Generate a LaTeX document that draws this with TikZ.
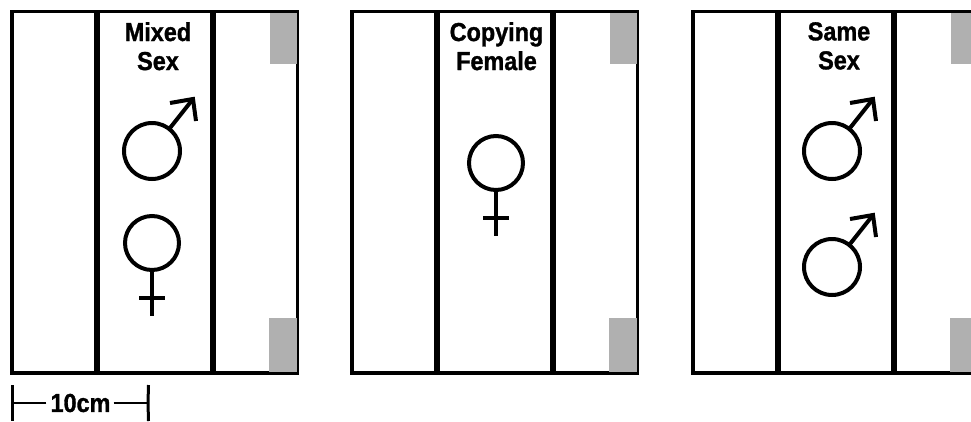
\documentclass[tikz,border=0pt]{standalone}
\usepackage{fontspec}
\usepackage{xcolor}
\usepackage{tikz}
\newfontfamily\labelfont[FakeStretch=0.9,FakeBold=1.2]{Liberation Sans}
\definecolor{TabGray}{RGB}{176,176,176}

\begin{document}
\begin{tikzpicture}[
    x=1pt,y=-1pt,
    tagtext/.style={inner sep=0pt, anchor=north, align=center, font=\labelfont\bfseries\fontsize{26}{29}\selectfont},
    frame/.style={draw=black, line width=3.4pt},
    divider/.style={draw=black, line width=6pt},
    tab/.style={fill=TabGray, draw=none},
    sign/.style={draw=black, line width=4pt},
    dimline/.style={draw=black, line width=2pt},
    dimtick/.style={draw=black, line width=3pt},
    malesign/.pic={
      \draw[sign] (0,0) circle (28);
      \draw[sign] (18,-23) -- (41,-52);
      \draw[sign] (18,-48) -- (41,-52) -- (44,-30);
    },
    femalesign/.pic={
      \draw[sign] (0,0) circle (27);
      \draw[sign] (0,27) -- (0,73);
      \draw[sign] (-13,55) -- (13,55);
    }
  ]
    \clip (0,0) rectangle (971,421);
    \foreach \px in {12,352,693} {
      \draw[frame] (\px,11.5) rectangle ++(285.5,361.5);
      \draw[divider] (\px+85,11.5) -- (\px+85,373);
      \draw[divider] (\px+200.5,11.5) -- (\px+200.5,373);
      \fill[tab] (\px+257.5,13) rectangle ++(27,51);
      \fill[tab] (\px+257,318) rectangle ++(27.5,54);
    }
    \node[tagtext] (mixed) at (158,22) {Mixed\\Sex};
    \node[tagtext] (copying) at (496.5,22) {Copying\\Female};
    \node[tagtext] (same) at (839,22) {Same\\Sex};
    \foreach \x/\y in {152/151,832/151,832/267} {
      \pic at (\x,\y) {malesign};
    }
    \foreach \x/\y in {152/243,496/163} {
      \pic at (\x,\y) {femalesign};
    }
    % scale bar
    \node[inner sep=0pt, font=\labelfont\bfseries\fontsize{26}{29}\selectfont] (dimlab) at (80.5,403) {10cm};
    \coordinate (dimleft) at (12,403);
    \coordinate (dimright) at (148,403);
    \draw[dimline] ([xshift=-4pt]dimlab.west) -- (dimleft);
    \draw[dimline] ([xshift=3pt]dimlab.east) -- (dimright);
    \draw[dimtick] (12,385) -- (dimleft) -- (12,421);
    \draw[dimtick] (148.5,385) -- (dimright) -- (148.5,421);
  \end{tikzpicture}
\end{document}
